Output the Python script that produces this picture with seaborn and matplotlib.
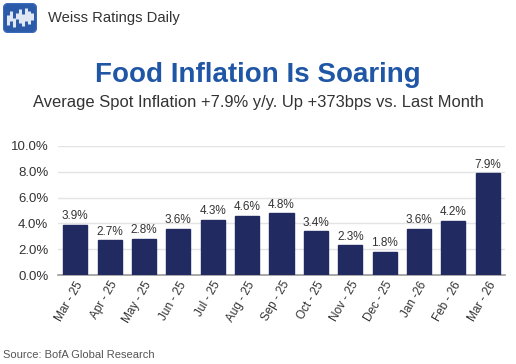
import matplotlib
matplotlib.use("Agg")
import matplotlib.pyplot as plt
import seaborn as sns
import pandas as pd
from matplotlib.patches import FancyBboxPatch

months = ["Mar - 25", "Apr - 25", "May - 25", "Jun - 25", "Jul - 25", "Aug - 25",
          "Sep - 25", "Oct - 25", "Nov - 25", "Dec - 25", "Jan -26", "Feb - 26", "Mar - 26"]
values = [3.9, 2.7, 2.8, 3.6, 4.3, 4.6, 4.8, 3.4, 2.3, 1.8, 3.6, 4.2, 7.9]
yticks = [0, 2, 4, 6, 8, 10]

sns.set_theme(style="white")
plt.rcParams['font.family'] = ['Liberation Sans', 'DejaVu Sans']

fig = plt.figure(figsize=(5.16, 3.64), dpi=100)
fig.patch.set_facecolor("white")

ax = fig.add_axes([58/516, 1-275/364, (505-58)/516, (275-146)/364])
df = pd.DataFrame({"month": months, "value": values})
sns.barplot(data=df, x="month", y="value", color="#222a62", width=0.7,
            saturation=1, ax=ax, zorder=3)
for p in ax.patches:
    p.set_edgecolor("#222a62")
ax.set_xlim(-0.5, len(months) - 0.5)
ax.set_ylim(0, 10)
ax.set_yticks(yticks)
ax.set_yticklabels([f"{t:.1f}%" for t in yticks], fontsize=9.5, color="#333333")
ax.yaxis.grid(True, color="#e4e4e4", linewidth=1, zorder=0)
ax.set_axisbelow(True)
ax.tick_params(axis="y", length=0, pad=7)
ax.tick_params(axis="x", length=0, pad=3)
ax.set_xticks(range(len(months)))
ax.set_xticklabels(months, rotation=60, ha="right", rotation_mode="anchor",
                   fontsize=8.5, color="#333333")
ax.set_xlabel("")
ax.set_ylabel("")
for s in ["top", "right", "left"]:
    ax.spines[s].set_visible(False)
ax.spines["bottom"].set_color("#999999")
ax.spines["bottom"].set_linewidth(1.2)

for i, v in enumerate(values):
    ax.text(i, v + 0.2, f"{v:.1f}%", ha="center", va="bottom", fontsize=8.5,
            color="#333333")

# Header logo
lax = fig.add_axes([3/516, 1-33/364, 34/516, 30/364])
lax.set_xlim(0, 34)
lax.set_ylim(0, 30)
lax.axis("off")
lax.add_patch(FancyBboxPatch((0.5, 0.5), 33, 29, boxstyle="round,pad=0,rounding_size=5",
                             facecolor="#2a5aa8", edgecolor="#3b6bb8", linewidth=1))
xs = [5, 8, 11, 14, 17, 20, 23, 26, 29]
lo = [8, 12, 6, 14, 10, 7, 12, 9, 13]
hi = [18, 22, 15, 20, 24, 19, 25, 22, 20]
for x, a, b in zip(xs, lo, hi):
    lax.plot([x, x], [a, b], color="#dfe7f5", linewidth=2.2, solid_capstyle="butt")

fig.text(48/516, 1-18/364, "Weiss Ratings Daily", fontsize=10.6, color="#333333",
         ha="left", va="center")

fig.text(0.5, 1-75/364, "Food Inflation Is Soaring", fontsize=20, fontweight="bold",
         color="#1f56a5", ha="center", va="center")
fig.text(0.5, 1-103/364, "Average Spot Inflation +7.9% y/y. Up +373bps vs. Last Month",
         fontsize=11.9, color="#333333", ha="center", va="center")
fig.text(3/516, 1-355/364, "Source: BofA Global Research", fontsize=8,
         color="#555555", ha="left", va="center")

fig.savefig("out.png", dpi=100)
